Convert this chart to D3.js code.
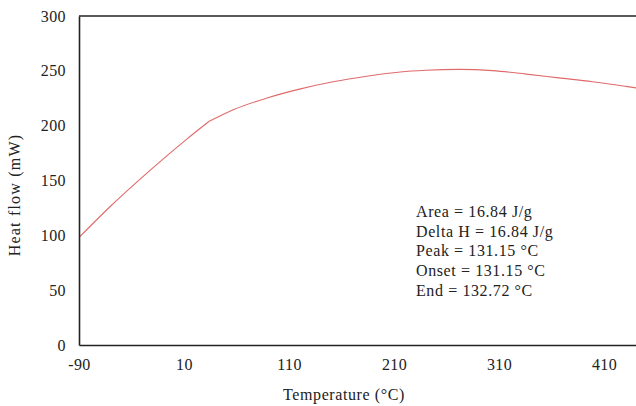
<!DOCTYPE html>
<html>
<head>
<meta charset="utf-8">
<script src="https://cdn.jsdelivr.net/npm/d3@7"></script>
<style>
  html, body { margin: 0; padding: 0; background: #fff; }
  svg { display: block; font-family: "Liberation Serif", "DejaVu Serif", serif; }
</style>
</head>
<body>
<div id="chart"></div>
<script>
// DSC curve
const temps = [-90, -60, -35, -10, 13, 34, 57, 89, 120, 152, 184, 216, 240, 272, 304, 336, 367, 399, 431, 445];
const heatFlow = [98, 126.5, 148.5, 169.5, 188, 204, 214.6, 225.2, 233.3, 240, 245.1, 249, 250.5, 251.3, 250.2, 247, 243.6, 240.1, 235.8, 233.8];
const kinkAt = 34; // the trace has a sharp bend here
const xTicks = [-90, 10, 110, 210, 310, 410];
const yTicks = [0, 50, 100, 150, 200, 250, 300];
const notes = ['Area = 16.84 J/g', 'Delta H = 16.84 J/g', 'Peak = 131.15 °C', 'Onset = 131.15 °C', 'End = 132.72 °C'];

const width = 636, height = 406;
const margin = { top: 16, right: 0, bottom: 61, left: 79 };
const W = width - margin.left - margin.right;
const H = height - margin.top - margin.bottom;

const x = d3.scaleLinear().domain([-90, 440.5]).range([0, W]);
const y = d3.scaleLinear().domain([0, 300]).range([H, 0]);

const svg = d3.select('#chart').append('svg')
  .attr('width', width).attr('height', height);

const g = svg.append('g').attr('transform', `translate(${margin.left},${margin.top})`);

// clip so the curve runs off the right edge like the original
g.append('clipPath').attr('id', 'plot')
  .append('rect').attr('x', 0).attr('y', -2).attr('width', W).attr('height', H + 4);

const points = temps.map((t, i) => ({ t, v: heatFlow[i] }));
const segments = [points.filter(d => d.t <= kinkAt), points.filter(d => d.t >= kinkAt)];

const line = d3.line()
  .x(d => x(d.t))
  .y(d => y(d.v))
  .curve(d3.curveMonotoneX);

g.selectAll('path.trace')
  .data(segments)
  .join('path')
  .attr('class', 'trace')
  .attr('clip-path', 'url(#plot)')
  .attr('fill', 'none')
  .attr('stroke', '#e06a6a')
  .attr('stroke-width', 1.1)
  .attr('stroke-linejoin', 'round')
  .attr('d', line);

// axes, no tick marks
g.append('g').attr('transform', `translate(0,${H})`)
  .call(d3.axisBottom(x).tickValues(xTicks).tickSize(0).tickPadding(14).tickFormat(d => String(d)))
  .call(ax => ax.select('.domain').attr('stroke', '#222').attr('stroke-width', 1.6))
  .selectAll('text').attr('font-size', '16px').attr('fill', '#222')
  .attr('letter-spacing', '0.4px')
  .attr('font-family', '"Liberation Serif", serif');

g.append('g')
  .call(d3.axisLeft(y).tickValues(yTicks).tickSize(0).tickPadding(13))
  .call(ax => ax.select('.domain').attr('stroke', '#222').attr('stroke-width', 1.6))
  .selectAll('text').attr('font-size', '16px').attr('fill', '#222')
  .attr('letter-spacing', '0.4px')
  .attr('font-family', '"Liberation Serif", serif');

// top border
g.append('line')
  .attr('x1', 0).attr('x2', W).attr('y1', y(300)).attr('y2', y(300))
  .attr('stroke', '#222').attr('stroke-width', 1.6);

// titles
svg.append('text')
  .attr('x', 344).attr('y', 400)
  .attr('text-anchor', 'middle').attr('font-size', '16px').attr('fill', '#222')
  .attr('letter-spacing', '0.6px')
  .text('Temperature (°C)');

svg.append('text')
  .attr('transform', 'translate(20,195) rotate(-90)')
  .attr('text-anchor', 'middle').attr('font-size', '16px').attr('fill', '#222')
  .attr('letter-spacing', '1.2px')
  .text('Heat flow (mW)');

// annotation block
const ann = svg.append('g').attr('transform', 'translate(416,217)');
notes.forEach((t, i) => {
  ann.append('text').attr('x', 0).attr('y', i * 19.7)
    .attr('font-size', '16px').attr('fill', '#222')
    .attr('letter-spacing', '0.6px').text(t);
});
</script>
</body>
</html>
